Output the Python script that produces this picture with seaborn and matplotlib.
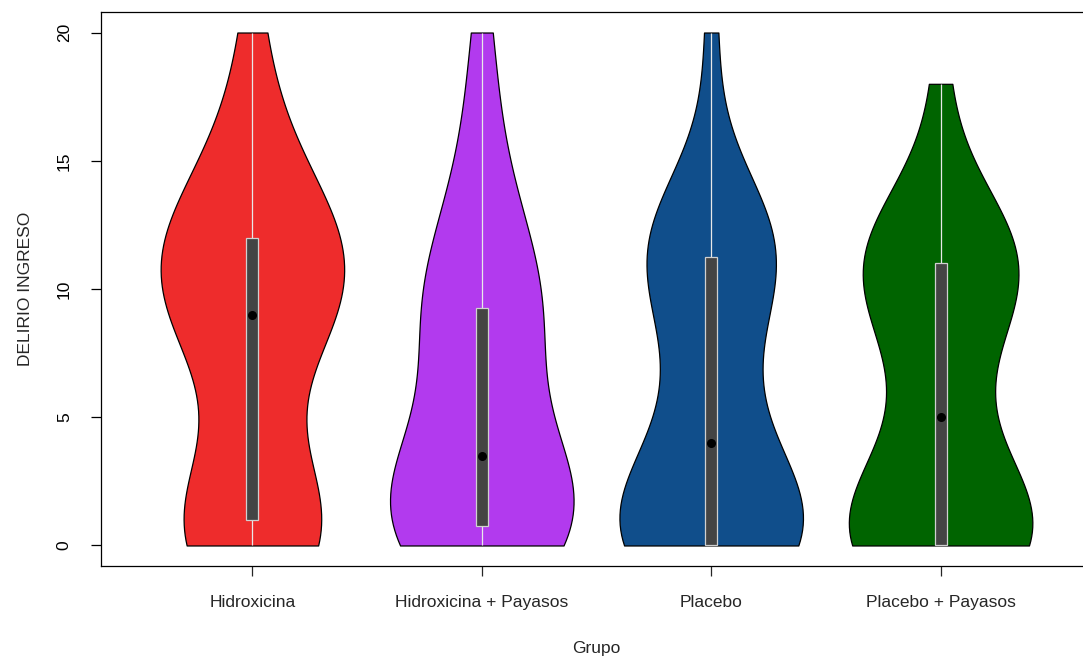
import numpy as np
import pandas as pd
import matplotlib
matplotlib.use("Agg")
import matplotlib.pyplot as plt
import seaborn as sns

sns.set_style("ticks")
plt.rcParams["font.family"] = ["Liberation Sans", "DejaVu Sans"]

# Datos: puntuacion de delirio al ingreso por grupo
grupos = ["Hidroxicina", "Hidroxicina + Payasos", "Placebo", "Placebo + Payasos"]
colores = ["#EE2C2C", "#B23AEE", "#104E8B", "#006400"]

hidroxicina = [0, 0, 0, 0, 1, 1, 1, 1, 1, 2, 6, 8, 8, 9, 9,
               10, 10, 10, 11, 11, 11, 12, 12, 13, 13, 14, 15, 17, 20]
hidroxicina_payasos = [0, 0, 0, 0, 0, 0, 0, 0, 1, 2, 2, 3, 3, 3, 3, 3,
                       4, 6, 7, 8, 8, 9, 9, 9, 10, 11, 12, 12, 13, 15, 17, 20]
placebo = [0, 0, 0, 0, 0, 0, 0, 0, 0, 1, 1, 1, 2, 2, 3, 3,
           5, 5, 7, 8, 9, 10, 11, 11, 12, 12, 12, 12, 12, 12, 14, 20]
placebo_payasos = [0, 0, 0, 0, 0, 0, 0, 0, 1, 1, 1, 2, 2, 4, 5,
                   7, 8, 9, 10, 10, 11, 11, 11, 11, 12, 12, 12, 13, 18]

valores = [hidroxicina, hidroxicina_payasos, placebo, placebo_payasos]
df = pd.DataFrame({
    "Grupo": np.repeat(grupos, [len(v) for v in valores]),
    "DELIRIO INGRESO": np.concatenate(valores),
})

fig = plt.figure(figsize=(10.83, 6.61), dpi=100)
ax = fig.add_axes([101 / 1083, 95 / 661, 991 / 1083, 554 / 661])

sns.violinplot(data=df, x="Grupo", y="DELIRIO INGRESO", hue="Grupo",
               order=grupos, hue_order=grupos, palette=colores,
               cut=0, density_norm="width", width=0.8, inner=None,
               bw_adjust=1.0, linewidth=0.9, linecolor="black",
               saturation=1, legend=False, ax=ax)

# caja interior estilo vioplot
for i, v in enumerate(valores):
    q1, med, q3 = np.percentile(v, [25, 50, 75])
    ax.vlines(i, min(v), max(v), color="#E8E8E8", lw=0.9, zorder=3)
    ax.bar(i, q3 - q1, bottom=q1, width=0.052, color="#444444",
           edgecolor="#D0D0D0", lw=0.9, zorder=4)
    ax.scatter(i, med, color="black", s=30, zorder=5)

ax.set_xlim(-0.66, 3.66)
ax.set_ylim(-0.8, 20.8)
ax.set_yticks([0, 5, 10, 15, 20])
ax.tick_params(axis="y", length=7, width=0.9, pad=14, labelsize=12.5,
               labelrotation=90, colors="black")
ax.tick_params(axis="x", length=7, width=0.9, pad=14, labelsize=12.5)
for lab in ax.get_yticklabels():
    lab.set_verticalalignment("center")
ax.set_xlabel("Grupo", fontsize=12.5, labelpad=22)
ax.set_ylabel("DELIRIO INGRESO", fontsize=12.5, labelpad=17)
for s in ax.spines.values():
    s.set_linewidth(0.9)
    s.set_color("black")

fig.savefig("out.png", dpi=100)
